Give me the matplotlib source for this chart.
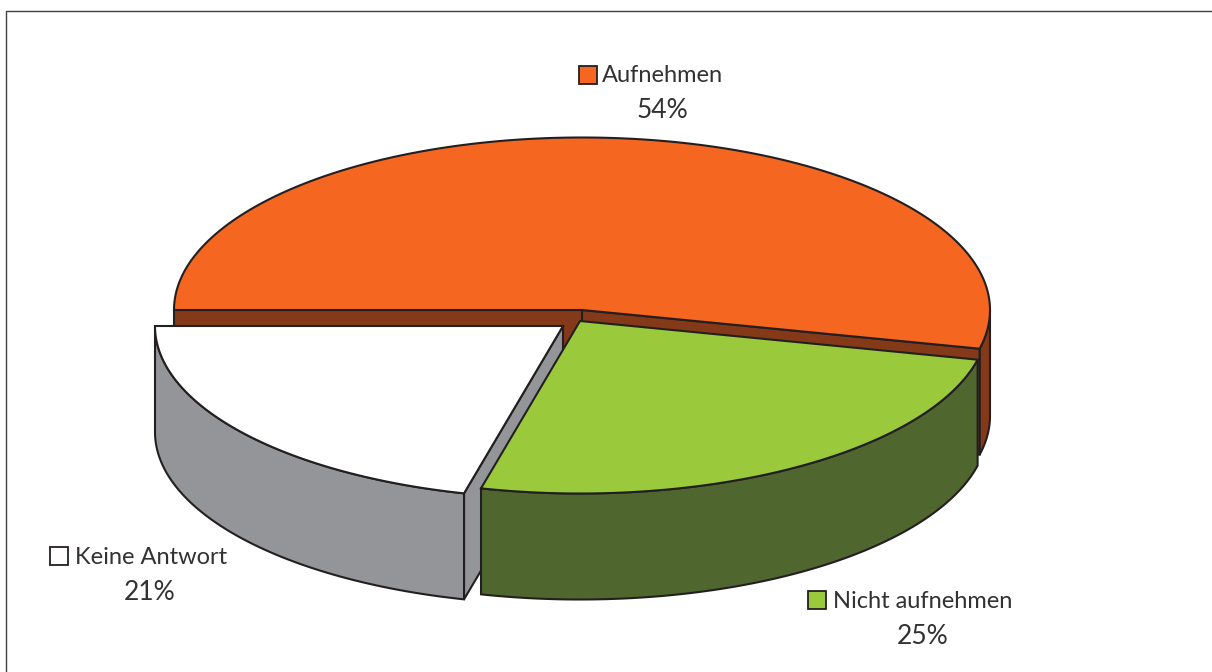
import numpy as np
import matplotlib
matplotlib.use("Agg")
import matplotlib.pyplot as plt
from matplotlib.patches import Polygon, Rectangle

categories = ["Aufnehmen", "Nicht aufnehmen", "Keine Antwort"]
shares = [53.6, 25.3, 21.1]

top_colors = ["#F56621", "#9ACA3C", "#FFFFFF"]
side_colors = ["#843918", "#4F662E", "#939598"]
EDGE = "#231F20"
TEXT = "#333132"
LW = 1.5

RX, RY, DEPTH = 408, 172.5, 106
apexes = [(582, 310), (580, 321), (563, 326)]

label_pos = [
    {"box": (578.5, 66), "name": (602, 75.5), "pct": (662, 111)},
    {"box": (808, 591), "name": (833, 601.5), "pct": (923, 636)},
    {"box": (50, 547), "name": (75, 557.5), "pct": (150, 592)},
]

fig = plt.figure(figsize=(12.12, 6.72), dpi=100)
ax = fig.add_axes([0, 0, 1, 1])
ax.set_xlim(0, 1212)
ax.set_ylim(672, 0)
ax.axis("off")
plt.rcParams["font.family"] = ["Lato", "DejaVu Sans"]

# outer frame
ax.plot([6, 6, 1212], [672, 11, 11], color="#404040", lw=1.0, zorder=1)

# slice angles, clockwise on screen from the left-most point
sweeps = [s / sum(shares) * 2 * np.pi for s in shares]
starts = [np.pi + sum(sweeps[:i]) for i in range(3)]  # screen angle, y points down


def arc(center, a0, a1, dy=0.0):
    t = np.linspace(a0, a1, 240)
    return np.column_stack([center[0] + RX * np.cos(t), center[1] + RY * np.sin(t) + dy])


def add_poly(pts, color, z):
    ax.add_patch(Polygon(pts, closed=True, facecolor=color, edgecolor=EDGE,
                         lw=LW, joinstyle="miter", zorder=z))


def top_face(i, z):
    c = apexes[i]
    pts = np.vstack([[c], arc(c, starts[i], starts[i] + sweeps[i])])
    add_poly(pts, top_colors[i], z)


def rim(i, a0, a1, z):
    c = apexes[i]
    upper = arc(c, a0, a1)
    lower = arc(c, a0, a1, DEPTH)
    add_poly(np.vstack([upper, lower[::-1]]), side_colors[i], z)


def cut(i, a, z):
    c = np.array(apexes[i], float)
    p = arc(c, a, a + 1e-6)[0]
    d = np.array([0, DEPTH])
    add_poly([c, p, p + d, c + d], side_colors[i], z)


# large slice: rim on the right, then both cut faces, then top
end0 = starts[0] + sweeps[0]
rim(0, 2 * np.pi, end0, 2)
cut(0, end0, 3)
cut(0, starts[0], 3)
top_face(0, 4)

# slice at lower left
cut(2, starts[2], 5)
rim(2, starts[2], starts[2] + sweeps[2], 6)
top_face(2, 7)

# slice at lower right
rim(1, starts[1], starts[1] + sweeps[1], 8)
top_face(1, 9)

# labels
for i, name in enumerate(categories):
    lp = label_pos[i]
    ax.add_patch(Rectangle(lp["box"], 18, 18, facecolor=top_colors[i], edgecolor=EDGE,
                           lw=1.3, zorder=10))
    ax.text(*lp["name"], name, fontsize=17, color=TEXT,
            ha="left", va="center", zorder=10)
    ax.text(*lp["pct"], f"{round(shares[i])}%", fontsize=19, color=TEXT,
            ha="center", va="center", zorder=10)

fig.savefig("out.png", dpi=100, facecolor="white")
